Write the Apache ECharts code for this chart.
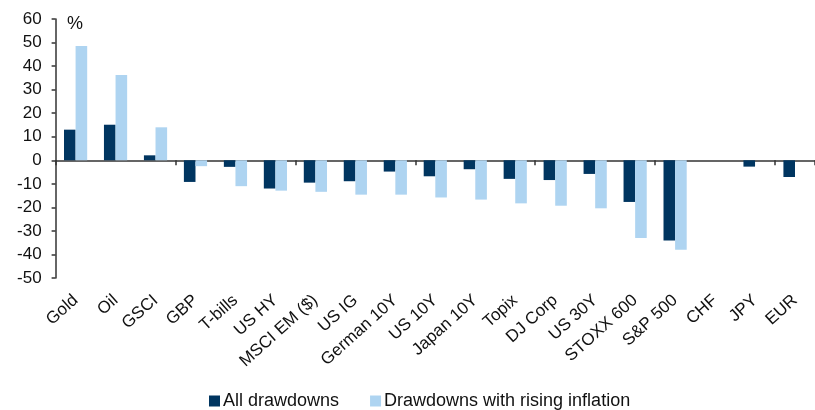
<!DOCTYPE html>
<html>
<head>
<meta charset="utf-8">
<script src="https://cdn.jsdelivr.net/npm/echarts@6/dist/echarts.min.js"></script>
<style>
  html, body { margin: 0; padding: 0; background: #fff; }
  #chart { width: 815px; height: 410px; }
</style>
</head>
<body>
<div id="chart"></div>
<script>
// Asset drawdown returns (%)
const categories = ['Gold', 'Oil', 'GSCI', 'GBP', 'T-bills', 'US HY', 'MSCI EM ($)', 'US IG',
  'German 10Y', 'US 10Y', 'Japan 10Y', 'Topix', 'DJ Corp', 'US 30Y', 'STOXX 600', 'S&P 500',
  'CHF', 'JPY', 'EUR'];
const allDrawdowns = [13.0, 15.1, 2.1, -9.2, -2.8, -12.0, -9.5, -8.9, -4.8, -6.8, -3.8, -7.9,
  -8.4, -5.8, -17.7, -34.1, null, -2.7, -7.1];
const risingInflation = [48.5, 36.2, 14.0, -2.5, -11.0, -12.9, -13.4, -14.6, -14.6, -15.8, -16.7,
  -18.3, -19.3, -20.4, -33.0, -38.0, null, null, null];
const yTicks = { min: -50, max: 60, interval: 10 };

const FONT = 'Liberation Sans, Arial, sans-serif';
const DARK = '#003560';
const LIGHT = '#AED4F1';
const AXIS = '#333';

const chart = echarts.init(document.getElementById('chart'), null, { renderer: 'canvas' });
chart.setOption({
  animation: false,
  backgroundColor: '#fff',
  textStyle: { fontFamily: FONT },
  grid: { left: 55.6, right: -8, top: 19, bottom: 132 },
  graphic: [{
    type: 'text', left: 67, top: 15,
    style: { text: '%', font: '18px ' + FONT, fill: '#111' }
  }],
  legend: {
    bottom: -5, left: 204,
    itemWidth: 11, itemHeight: 11, itemGap: 31,
    textStyle: { fontSize: 18, color: '#111', fontFamily: FONT, padding: [0, 0, 0, -2] },
    icon: 'rect',
    data: ['All drawdowns', 'Drawdowns with rising inflation']
  },
  xAxis: [{
    type: 'category', data: categories, position: 'bottom',
    axisLine: { onZero: true, lineStyle: { color: AXIS, width: 1.5 } },
    axisTick: { show: true, length: 5, lineStyle: { color: AXIS, width: 1.5 } },
    axisLabel: { show: false },
    splitLine: { show: false }
  }, {
    type: 'category', data: categories, position: 'bottom',
    axisLine: { show: false, onZero: false },
    axisTick: { show: false },
    axisLabel: { show: true, rotate: 42, interval: 0, margin: 20, fontSize: 17, color: '#111', fontFamily: FONT },
    splitLine: { show: false }
  }],
  yAxis: {
    type: 'value', min: yTicks.min, max: yTicks.max, interval: yTicks.interval,
    axisLine: { show: true, lineStyle: { color: AXIS, width: 1.5 } },
    axisTick: { show: true, inside: false, length: 4, lineStyle: { color: AXIS, width: 1.5 } },
    axisLabel: { fontSize: 17, color: '#111', margin: 14, fontFamily: FONT },
    splitLine: { show: false }
  },
  series: [{
    name: 'All drawdowns', type: 'bar', xAxisIndex: 0,
    data: allDrawdowns, barWidth: 11.6, barGap: '0%',
    itemStyle: { color: DARK }
  }, {
    name: 'Drawdowns with rising inflation', type: 'bar', xAxisIndex: 0,
    data: risingInflation, barWidth: 11.6, barGap: '0%',
    itemStyle: { color: LIGHT }
  }]
});
</script>
</body>
</html>
